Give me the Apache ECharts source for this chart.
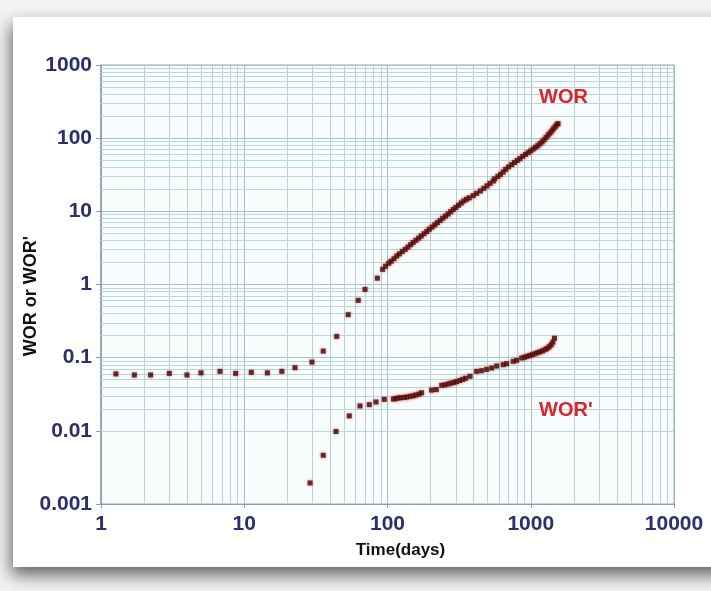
<!DOCTYPE html>
<html>
<head>
<meta charset="utf-8">
<script src="https://cdn.jsdelivr.net/npm/echarts@6/dist/echarts.min.js"></script>
<style>
html,body{margin:0;padding:0;background:#f3f3f3;}
#chart{width:711px;height:591px;}
</style>
</head>
<body>
<div id="chart"></div>
<script>
// ---- data (Time in days, ratio) ----
var worTime = [1.27,1.71,2.22,3.0,3.98,4.99,6.77,8.71,11.2,14.5,18.3,22.6,29.7,35.6,44.2,53.2,62.5,69.7,85,
  92.5,97,102,106,111,116,121,127,133,139,145,151,158,165,172,180,188,196,205,214,223,233,243,254,265,276,288,300,313,327,341,356,372,397,
  419,445,470,495,520,548,560,590,615,643,668,700,736,770,805,841,880,920,960,1000,1040,1080,1120,1160,1200,1240,1280,1320,1360,1400,1440,1480,1517,1550];
var worValue = [0.060,0.058,0.058,0.061,0.058,0.062,0.065,0.061,0.063,0.062,0.065,0.073,0.087,0.123,0.195,0.387,0.607,0.857,1.22,
  1.61,1.78,1.95,2.08,2.25,2.45,2.62,2.83,3.02,3.25,3.5,3.75,4.02,4.3,4.6,4.95,5.3,5.7,6.1,6.55,7.0,7.5,8.05,8.6,9.2,9.9,10.6,11.3,12.1,13.0,13.9,14.6,15.3,16.4,
  17.6,19.0,20.6,22.3,24.1,26.0,27.8,30.0,32.0,34.5,37.5,40.5,43.5,46.5,49.5,52.5,56.5,60,63.5,67,71,75,79,84,89,95,102,110,117,125,134,143,152,158];

var derivTime = [28.8,35.6,43.7,54.1,64.3,74.6,83.1,95.0,
  110,114,119,124,131,137,144,151,158,166,173,203,219,
  239,252,265,278,291,304,320,335,351,377,419,454,492,534,578,643,679,755,798,
  865,903,942,982,1024,1068,1113,1161,1210,1262,1303,1345,1389,1427,1465];
var derivValue = [0.00194,0.00463,0.0098,0.016,0.0219,0.0228,0.0248,0.0269,
  0.0272,0.0276,0.0281,0.0284,0.0286,0.0290,0.0296,0.0301,0.0309,0.0318,0.0331,0.0360,0.0366,
  0.0419,0.0425,0.0437,0.0448,0.0458,0.0471,0.0487,0.0505,0.0523,0.0557,0.065,0.0664,0.0692,0.0723,0.077,0.0802,0.0828,0.089,0.092,
  0.099,0.101,0.104,0.107,0.110,0.113,0.117,0.120,0.124,0.129,0.134,0.141,0.150,0.163,0.184];

var xMinor = [2,3,4,5,6,7,8,9,20,30,40,50,60,70,80,90,200,300,400,500,600,700,800,900,2000,3000,4000,5000,6000,7000,8000,9000];
var yMinor = [0.002,0.003,0.004,0.005,0.006,0.007,0.008,0.009,0.02,0.03,0.04,0.05,0.06,0.07,0.08,0.09,
  0.2,0.3,0.4,0.5,0.6,0.7,0.8,0.9,2,3,4,5,6,7,8,9,20,30,40,50,60,70,80,90,200,300,400,500,600,700,800,900];
var seriesNames = ["WOR", "WOR'"];

function pairs(xs, ys){ return xs.map(function(x,i){ return [x, ys[i]]; }); }
var FONT = '"Liberation Sans Narrow","Arial Narrow","Liberation Sans",sans-serif';

var chart = echarts.init(document.getElementById('chart'), null, {renderer:'canvas'});
chart.setOption({
  animation: false,
  backgroundColor: 'transparent',
  graphic: [
    {type:'rect', z:-10, shape:{x:13, y:17, width:720, height:550},
     style:{fill:'#ffffff', shadowBlur:16, shadowColor:'rgba(0,0,0,0.6)', shadowOffsetY:8, shadowOffsetX:-2}},
    {type:'text', z:10, left: 539, top: 87,
     style:{text:"WOR", fill:'#d8262e', font:'bold 20px '+FONT}},
    {type:'text', z:10, left: 539, top: 400,
     style:{text:"WOR'", fill:'#d8262e', font:'bold 20px '+FONT}},
    {type:'text', z:10, x: 31, y: 296, rotation: Math.PI/2,
     style:{text:"WOR or WOR'", fill:'#111', font:'bold 18px '+FONT, align:'center', verticalAlign:'middle'}}
  ],
  grid: {left:101, top:65, right:37, bottom:87, show:true, backgroundColor:'#f8fcfc',
         borderColor:'#9aa9b2', borderWidth:1, outerBoundsMode:'none', containLabel:false},
  xAxis: {
    type:'log', logBase:10, min:1, max:10000, interval:1,
    name:'Time(days)', nameLocation:'middle', nameGap:38,
    nameTextStyle:{color:'#111', fontFamily:FONT, fontWeight:'bold', fontSize:17, padding:[0,0,0,26]},
    axisLine:{show:true, lineStyle:{color:'#8e9ca6', width:1}},
    axisTick:{show:true, inside:false, length:4, lineStyle:{color:'#8e9ca6'}},
    axisLabel:{color:'#2b2f6b', fontFamily:FONT, fontWeight:'bold', fontSize:21, margin:10,
      formatter:function(v){ return String(+(+v).toPrecision(3)); }},
    splitLine:{show:true, lineStyle:{color:'#a4bcc4', width:1}},
    minorTick:{show:false}, minorSplitLine:{show:false}
  },
  yAxis: {
    type:'log', logBase:10, min:0.001, max:1000, interval:1,
    axisLine:{show:true, lineStyle:{color:'#8e9ca6', width:1.5}},
    axisTick:{show:true, inside:false, length:5, lineStyle:{color:'#8e9ca6'}},
    axisLabel:{color:'#2b2f6b', fontFamily:FONT, fontWeight:'bold', fontSize:21, margin:9,
      formatter:function(v){ return String(+(+v).toPrecision(3)); }},
    splitLine:{show:true, lineStyle:{color:'#9fc6ca', width:1.2}},
    minorTick:{show:false}, minorSplitLine:{show:false}
  },
  series: [
    {
      name: seriesNames[0], type:'scatter', symbol:'rect', symbolSize:5, z:5,
      itemStyle:{color:'#3e0c0c', shadowBlur:3, shadowColor:'rgba(210,40,40,0.7)'},
      data: pairs(worTime, worValue),
      markLine: {
        silent:true, symbol:['none','none'], label:{show:false}, z:1,
        lineStyle:{color:'#bccfd3', width:1, type:'solid'},
        emphasis:{disabled:true},
        data: xMinor.map(function(v){ return {xAxis: v}; })
      }
    },
    {
      name: seriesNames[1], type:'scatter', symbol:'rect', symbolSize:5, z:5,
      itemStyle:{color:'#3e0c0c', shadowBlur:3, shadowColor:'rgba(210,40,40,0.7)'},
      data: pairs(derivTime, derivValue),
      markLine: {
        silent:true, symbol:['none','none'], label:{show:false}, z:1,
        lineStyle:{color:'#b6dadb', width:1.1, type:'solid'},
        emphasis:{disabled:true},
        data: yMinor.map(function(v){ return {yAxis: v}; })
      }
    }
  ]
});
</script>
</body>
</html>
